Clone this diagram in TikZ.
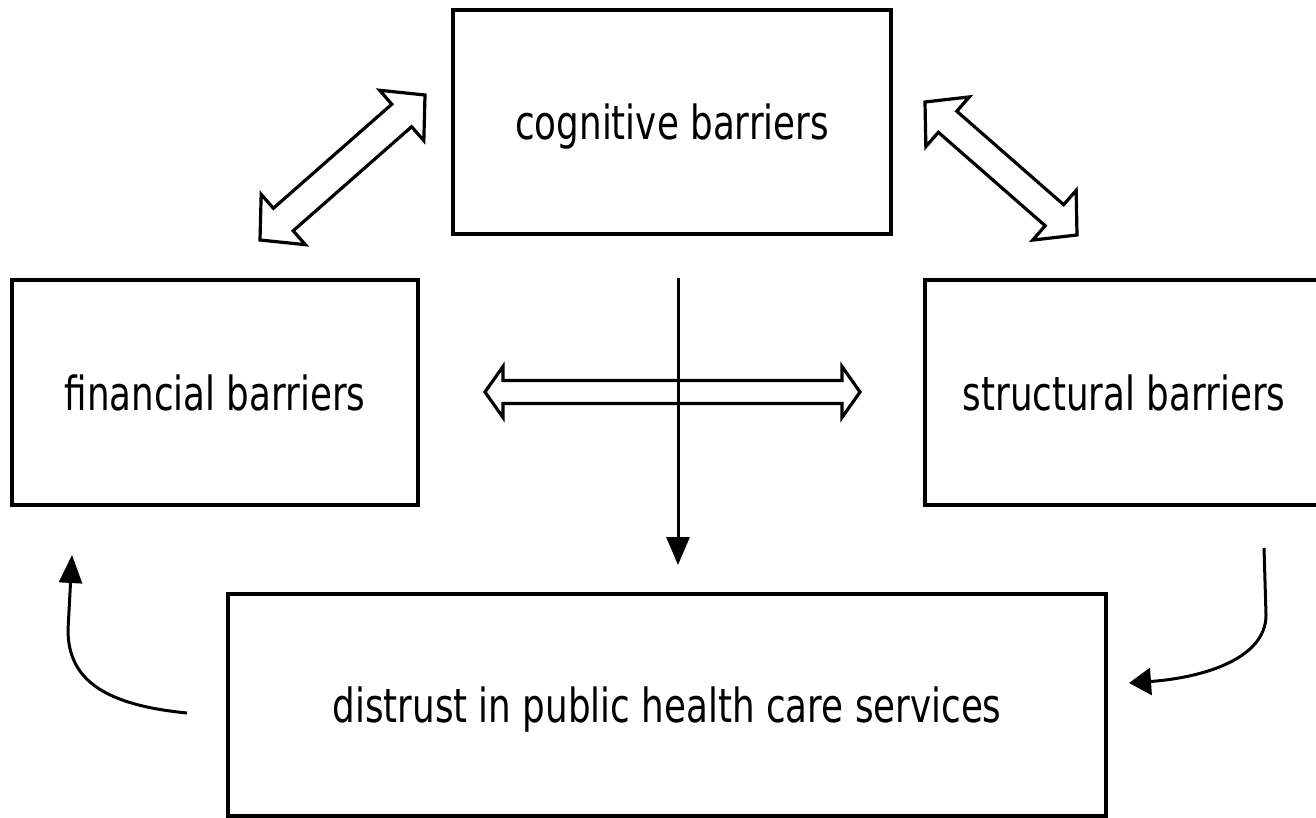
\documentclass[tikz,border=0pt]{standalone}
\usepackage{fontspec}
\setmainfont{DejaVu Sans}
\usepackage{graphicx}
\usetikzlibrary{calc,arrows.meta}
% narrow the labels a little
\newcommand*{\lbl}[1]{\scalebox{.76}[1]{#1}}
% hollow double arrow: from, to, head length, head half width, shaft half width
\newcommand*{\dblarrow}[5]{%
  \draw[hollow] (#1) -- ($(#1)!#3!(#2)!#4!90:(#2)$) -- ($(#1)!#3!(#2)!#5!90:(#2)$)
    -- ($(#2)!#3!(#1)!#5!-90:(#1)$) -- ($(#2)!#3!(#1)!#4!-90:(#1)$) -- (#2)
    -- ($(#2)!#3!(#1)!#4!90:(#1)$) -- ($(#2)!#3!(#1)!#5!90:(#1)$)
    -- ($(#1)!#3!(#2)!#5!-90:(#2)$) -- ($(#1)!#3!(#2)!#4!-90:(#2)$) -- cycle;}

\begin{document}
\begin{tikzpicture}[x=1pt,y=-1pt,
  box/.style={draw,line width=3.3pt,inner sep=0pt,text depth=0pt,font=\fontsize{47}{56}\selectfont},
  hollow/.style={line width=3.2pt,line join=miter},
  flow/.style={line width=3pt,-{Triangle[length=28pt,width=23pt]}}]
\useasboundingbox (0,0) rectangle (1316,818);
% The four boxes
\node[box,minimum width=438pt,minimum height=224pt] (cog) at (672,122) {\lbl{cognitive barriers}};
\node[box,minimum width=406pt,minimum height=225pt] (fin) at (215,392.5) {\lbl{financial barriers}};
\node[box,minimum width=398pt,minimum height=225pt] (str) at (1124,392.5) {\lbl{structural barriers}};
\node[box,minimum width=878pt,minimum height=222pt] (dis) at (667,705) {\lbl{distrust in public health care services}};
% Ends of the arrows
\coordinate (ld1) at (260,240);
\coordinate (ld2) at (425,95);
\coordinate (rd1) at (925,102);
\coordinate (rd2) at (1077,235);
\coordinate (h1) at (485,392);
\coordinate (h2) at (860,392);
\coordinate (v1) at (678,278);
\coordinate (v2) at (678,565);
\coordinate (lstart) at (187,713);
\coordinate (lend) at (72,555);
\coordinate (rstart) at (1264,548);
\coordinate (rend) at (1129,683);
% Double arrows
\dblarrow{ld1}{ld2}{31pt}{33.5pt}{15pt}
\dblarrow{rd1}{rd2}{30pt}{33pt}{14pt}
\dblarrow{h1}{h2}{18pt}{25.5pt}{11.5pt}
% Single arrows
\draw[flow] (v1) -- (v2);
\draw[flow] (lstart) .. controls (105,705) and (68,680) .. (68,630) -- (lend);
\draw[flow,-{Triangle[length=22pt,width=27pt]}] (rstart) -- (1266,615)
  .. controls (1266,660) and (1200,678) .. (rend);
\end{tikzpicture}
\end{document}
